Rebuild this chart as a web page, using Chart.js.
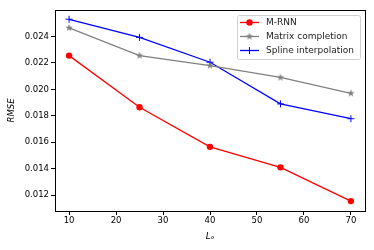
<!DOCTYPE html>
<html>
<head>
<meta charset="utf-8">
<script src="https://cdn.jsdelivr.net/npm/chart.js@4/dist/chart.umd.min.js"></script>
<style>
  html, body { margin: 0; padding: 0; background: #fff; }
  #wrap { width: 374px; height: 250px; }
</style>
</head>
<body>
<div id="wrap"><canvas id="rmseChart" width="374" height="250"></canvas></div>
<script>
// values
const lengths = [10, 25, 40, 55, 70];
const mrnn = [0.02255, 0.01865, 0.01565, 0.0141, 0.01155];
const matrixCompletion = [0.02465, 0.02255, 0.02180, 0.02090, 0.01970];
const splineInterp = [0.02530, 0.02393, 0.02205, 0.01890, 0.01778];
const seriesNames = ["M-RNN", "Matrix completion", "Spline interpolation"];
const xTicks = [10, 20, 30, 40, 50, 60, 70];
const yTicks = [0.012, 0.014, 0.016, 0.018, 0.020, 0.022, 0.024];

const FONT = "'DejaVu Sans', sans-serif";

// filled five point star, like matplotlib's '*' marker
function makeStar(color, r) {
  const c = document.createElement("canvas");
  const s = Math.ceil(r * 2 + 2);
  c.width = s; c.height = s;
  const g = c.getContext("2d");
  g.fillStyle = color;
  g.beginPath();
  for (let i = 0; i < 10; i++) {
    const rad = i % 2 === 0 ? r : r * 0.4;
    const a = -Math.PI / 2 + i * Math.PI / 5;
    const px = s / 2 + rad * Math.cos(a);
    const py = s / 2 + rad * Math.sin(a);
    if (i === 0) g.moveTo(px, py); else g.lineTo(px, py);
  }
  g.closePath();
  g.fill();
  return c;
}
const star = makeStar("#808080", 4);

const toPoints = (ys) => lengths.map((x, i) => ({ x: x, y: ys[i] }));

// frame on top/right plus matplotlib-ish legend box
const framePlugin = {
  id: "frame",
  afterDraw(chart) {
    const { ctx, chartArea: a } = chart;
    ctx.save();
    ctx.strokeStyle = "#000";
    ctx.lineWidth = 1;
    ctx.strokeRect(Math.round(a.left) + 0.5, Math.round(a.top) + 0.5,
      Math.round(a.right - a.left), Math.round(a.bottom - a.top));

    // legend
    const bx = 237, by = 15, bw = 123, bh = 44;
    ctx.fillStyle = "rgba(255,255,255,0.8)";
    ctx.strokeStyle = "#d0d0d0";
    ctx.beginPath();
    ctx.roundRect(bx + 0.5, by + 0.5, bw, bh, 2);
    ctx.fill();
    ctx.stroke();
    ctx.font = "9px " + FONT;
    ctx.textBaseline = "middle";
    chart.data.datasets.forEach((ds, i) => {
      const y = by + 7.5 + i * 14;
      ctx.strokeStyle = ds.borderColor;
      ctx.lineWidth = ds.borderWidth;
      ctx.beginPath();
      ctx.moveTo(bx + 3, y);
      ctx.lineTo(bx + 22, y);
      ctx.stroke();
      const mx = bx + 12.5;
      if (ds.pointStyle === "circle") {
        ctx.fillStyle = ds.pointBackgroundColor;
        ctx.beginPath();
        ctx.arc(mx, y, ds.pointRadius, 0, Math.PI * 2);
        ctx.fill();
      } else if (ds.pointStyle === "cross") {
        const r = ds.pointRadius;
        ctx.lineWidth = 1;
        ctx.beginPath();
        ctx.moveTo(mx - r, y); ctx.lineTo(mx + r, y);
        ctx.moveTo(mx, y - r); ctx.lineTo(mx, y + r);
        ctx.stroke();
      } else {
        ctx.drawImage(ds.pointStyle, mx - ds.pointStyle.width / 2, y - ds.pointStyle.height / 2);
      }
      ctx.fillStyle = "#222";
      ctx.fillText(ds.label, bx + 29, y + 0.5);
    });
    ctx.restore();
  }
};

new Chart(document.getElementById("rmseChart"), {
  type: "line",
  data: {
    datasets: [
      {
        label: seriesNames[0],
        data: toPoints(mrnn),
        borderColor: "#ff0000",
        backgroundColor: "#ff0000",
        pointBackgroundColor: "#ff0000",
        pointBorderWidth: 0,
        pointStyle: "circle",
        pointRadius: 3.2,
        borderWidth: 1.3
      },
      {
        label: seriesNames[1],
        data: toPoints(matrixCompletion),
        borderColor: "#808080",
        backgroundColor: "#808080",
        pointStyle: star,
        pointRadius: 4,
        borderWidth: 1.3
      },
      {
        label: seriesNames[2],
        data: toPoints(splineInterp),
        borderColor: "#0000ff",
        backgroundColor: "#0000ff",
        pointStyle: "cross",
        pointRadius: 3.5,
        pointBorderWidth: 1,
        borderWidth: 1.3
      }
    ]
  },
  options: {
    responsive: false,
    animation: false,
    layout: { padding: { left: 0, right: 9, top: 10, bottom: 0 } },
    plugins: {
      legend: { display: false },
      tooltip: { enabled: false }
    },
    elements: { line: { tension: 0 } },
    scales: {
      x: {
        type: "linear",
        min: 7,
        max: 73,
        afterBuildTicks: (s) => { s.ticks = xTicks.map((v) => ({ value: v })); },
        afterFit: (s) => { s.height = 39; },
        grid: { drawOnChartArea: false, tickLength: 4, color: "#000" },
        border: { color: "#000" },
        ticks: { color: "#000", padding: 1, font: { family: FONT, size: 8.5 } },
        title: {
          display: true,
          text: "Lₒ",
          color: "#000",
          padding: { top: 0, bottom: 8 },
          font: { family: FONT, size: 9, style: "italic" }
        }
      },
      y: {
        min: 0.0108,
        max: 0.026,
        afterBuildTicks: (s) => { s.ticks = yTicks.map((v) => ({ value: v })); },
        afterFit: (s) => { s.width = 55; },
        grid: { drawOnChartArea: false, tickLength: 4, color: "#000" },
        border: { color: "#000" },
        ticks: {
          color: "#000",
          padding: 2,
          font: { family: FONT, size: 8.5 },
          callback: (v) => v.toFixed(3)
        },
        title: {
          display: true,
          text: "RMSE",
          color: "#000",
          padding: { top: 7, bottom: 0 },
          font: { family: FONT, size: 8.5, style: "italic" }
        }
      }
    }
  },
  plugins: [framePlugin]
});
</script>
</body>
</html>
